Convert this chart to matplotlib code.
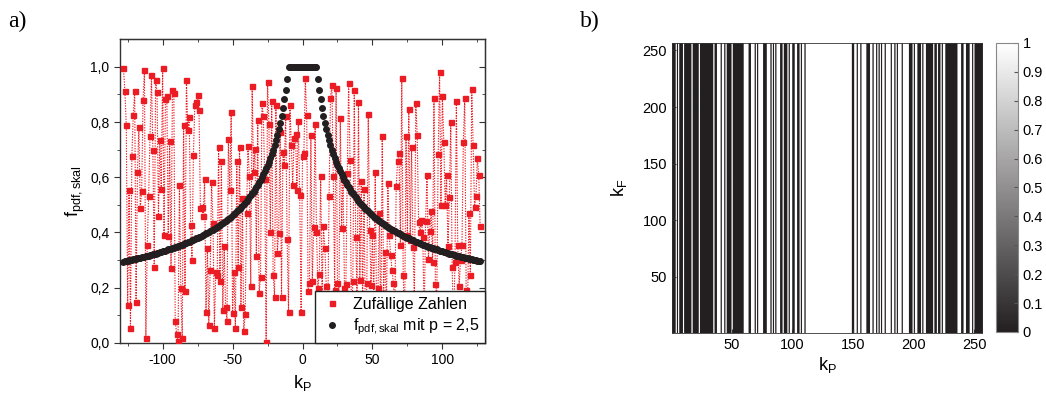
import numpy as np
import matplotlib
matplotlib.use("Agg")
import matplotlib.pyplot as plt
from matplotlib.colors import LinearSegmentedColormap

plt.rcParams['font.family'] = ['Liberation Sans', 'DejaVu Sans']
plt.rcParams['mathtext.fontset'] = 'custom'
plt.rcParams['mathtext.rm'] = 'Liberation Sans'
plt.rcParams['mathtext.it'] = 'Liberation Sans'

# k positions (left panel) and column index (right panel)
k = np.arange(-128, 128)
kP = np.arange(1, 257)

# random numbers, k = -128 ... 127
rand_a = [0.996, 0.913, 0.79, 0.135, 0.553, 0.055, 0.676, 0.825, 0.913, 0.147,
          0.62, 0.782, 0.489, 0.549, 0.88, 0.989, 0.018, 0.353, 0.533, 0.749,
          0.971, 0.698, 0.273, 0.953, 0.909, 0.458, 0.735, 0.559, 0.996, 0.389,
          0.885, 0.893, 0.387, 0.731, 0.27, 0.915, 0.905, 0.079, 0.032, 0.006,
          0.573, 0.2, 0.018, 0.79, 0.188, 0.953, 0.77, 0.818, 0.425, 0.301,
          0.68, 0.862, 0.873, 0.897, 0.844, 0.489, 0.491, 0.458, 0.595, 0.11,
          0.345, 0.064]
rand_b = [0.264, 0.582, 0.434, 0.055, 0.256, 0.244, 0.709, 0.222, 0.658, 0.119,
          0.35, 0.131, 0.079, 0.737, 0.555, 0.836, 0.107, 0.258, 0.055, 0.658,
          0.276, 0.709, 0.131, 0.525, 0.043, 0.103, 0.471, 0.713, 0.604, 0.204,
          0.93, 0.62, 0.701, 0.316, 0.807, 0.18, 0.24, 0.868, 0.822, 0.592,
          0.001, 0.945, 0.792, 0.4, 0.876, 0.246, 0.167, 0.862, 0.325, 0.398,
          0.765, 0.164, 0.692, 0.644, 0.822, 0.377, 0.113, 0.861, 0.716, 0.573,
          0.741, 0.755, 0.555, 0.804]
rand_c = [0.535, 0.11, 0.676, 0.689, 0.958, 0.824, 0.189, 0.216, 0.753, 0.222,
          0.418, 0.794, 0.401, 0.2, 0.25, 0.606, 0.18, 0.422, 0.343, 0.204,
          0.06, 0.531, 0.889, 0.933, 0.604, 0.19, 0.922, 0.218, 0.12, 0.816,
          0.416, 0.595, 0.2, 0.212, 0.616, 0.943, 0.661, 0.08, 0.222, 0.915,
          0.383, 0.17, 0.871, 0.228, 0.585, 0.14, 0.559, 0.03, 0.216, 0.828,
          0.41, 0.21, 0.392, 0.15, 0.62, 0.09, 0.2, 0.47, 0.05, 0.75,
          0.18, 0.33, 0.1, 0.58]
rand_d = [0.389, 0.319, 0.264, 0.216, 0.12, 0.567, 0.658, 0.689, 0.353, 0.961,
          0.246, 0.06, 0.749, 0.392, 0.849, 0.371, 0.709, 0.347, 0.15, 0.868,
          0.753, 0.436, 0.4, 0.444, 0.382, 0.09, 0.44, 0.607, 0.304, 0.406,
          0.476, 0.291, 0.889, 0.212, 0.17, 0.685, 0.98, 0.501, 0.895, 0.729,
          0.501, 0.607, 0.349, 0.527, 0.801, 0.274, 0.04, 0.291, 0.876, 0.353,
          0.207, 0.301, 0.353, 0.729, 0.889, 0.192, 0.13, 0.471, 0.244, 0.921,
          0.716, 0.491, 0.531, 0.671, 0.607, 0.422]
rand_vals = np.array(rand_a + rand_b + rand_c + rand_d)

# scaled pdf, indexed by |k| = 0 ... 128
f_half = [1.0] * 11 + [
    0.955, 0.916, 0.882, 0.851, 0.823, 0.798, 0.775, 0.754, 0.735, 0.717,
    0.700, 0.685, 0.670, 0.657, 0.644, 0.632, 0.621, 0.610, 0.600, 0.590,
    0.581, 0.572, 0.564, 0.556, 0.548, 0.541, 0.534, 0.527, 0.520, 0.514,
    0.508, 0.502, 0.497, 0.491, 0.486, 0.481, 0.476, 0.471, 0.466, 0.462,
    0.457, 0.453, 0.449, 0.445, 0.441, 0.437, 0.434, 0.430, 0.427, 0.423,
    0.420, 0.417, 0.413, 0.410, 0.407, 0.404, 0.401, 0.398, 0.396, 0.393,
    0.390, 0.388, 0.385, 0.383, 0.380, 0.378, 0.375, 0.373, 0.371, 0.369,
    0.366, 0.364, 0.362, 0.360, 0.358, 0.356, 0.354, 0.352, 0.350, 0.348,
    0.346, 0.345, 0.343, 0.341, 0.339, 0.338, 0.336, 0.334, 0.333, 0.331,
    0.330, 0.328, 0.326, 0.325, 0.323, 0.322, 0.321, 0.319, 0.318, 0.316,
    0.315, 0.314, 0.312, 0.311, 0.310, 0.308, 0.307, 0.306, 0.305, 0.303,
    0.302, 0.301, 0.300, 0.299, 0.297, 0.296, 0.295, 0.294]
f_pdf = np.array(f_half)[np.abs(k)]

# accepted columns (white) where the random number lies below the pdf
mask = (rand_vals < f_pdf).astype(float)
img = np.tile(mask, (256, 1))

xticks_a = [-100, -50, 0, 50, 100]
xtick_labels_a = ['-100', '-50', '0', '50', '100']
yticks_a = [0.0, 0.2, 0.4, 0.6, 0.8, 1.0]
ytick_labels_a = ['0,0', '0,2', '0,4', '0,6', '0,8', '1,0']
ticks_b = [50, 100, 150, 200, 250]
cbar_ticks = [0, 0.1, 0.2, 0.3, 0.4, 0.5, 0.6, 0.7, 0.8, 0.9, 1]
cbar_labels = ['0', '0.1', '0.2', '0.3', '0.4', '0.5', '0.6', '0.7', '0.8', '0.9', '1']

red = '#ec1c24'
dark = '#231f20'

fig = plt.figure(figsize=(10.46, 3.94), dpi=100)

# ---- panel a ----
ax = fig.add_axes([0.1147, 0.1302, 0.349, 0.770])
ax.plot(k, rand_vals, color=red, ls=(0, (1.2, 1.2)), lw=0.8, zorder=2)
ax.plot(k, rand_vals, ls='none', marker='s', ms=3.6, color=red, zorder=3,
        label='Zufällige Zahlen')
ax.plot(k, f_pdf, ls='none', marker='o', ms=4.0, color=dark, zorder=4,
        label=r'$\mathregular{f_{pdf,skal}}$ mit p = 2,5')
ax.set_xlim(-130.5, 130.5)
ax.set_ylim(0, 1.1)
ax.set_xticks(xticks_a)
ax.set_xticklabels(xtick_labels_a)
ax.set_xticks([-125, -75, -25, 25, 75, 125], minor=True)
ax.set_yticks(yticks_a)
ax.set_yticklabels(ytick_labels_a)
ax.set_yticks([0.1, 0.3, 0.5, 0.7, 0.9], minor=True)
ax.tick_params(which='both', direction='out', labelsize=10, color='#333333')
ax.tick_params(which='major', length=4)
ax.tick_params(which='minor', length=2.5)
for s in ax.spines.values():
    s.set_color('#333333')
    s.set_linewidth(1.0)
top = ax.secondary_xaxis('top')
top.set_xticks(xticks_a)
top.set_xticks([-125, -75, -25, 25, 75, 125], minor=True)
top.tick_params(which='both', direction='in', labeltop=False, color='#333333')
top.tick_params(which='major', length=4)
top.tick_params(which='minor', length=2.5)
right = ax.secondary_yaxis('right')
right.set_yticks(yticks_a)
right.set_yticks([0.1, 0.3, 0.5, 0.7, 0.9], minor=True)
right.tick_params(which='both', direction='in', labelright=False, color='#333333')
right.tick_params(which='major', length=4)
right.tick_params(which='minor', length=2.5)
ax.set_xlabel(r'$\mathregular{k_P}$', fontsize=13, labelpad=4)
ax.set_ylabel(r'$\mathregular{f_{pdf,skal}}$', fontsize=13, labelpad=2)
leg = ax.legend(loc='lower right', borderaxespad=0, fontsize=11.5, fancybox=False,
                framealpha=1, edgecolor='#222222', handletextpad=0.6,
                borderpad=0.35, labelspacing=0.3, handlelength=1.4)
leg.get_frame().set_linewidth(1.0)

fig.text(0.008, 0.945, 'a)', fontsize=17, family='Liberation Serif', va='center')
fig.text(0.554, 0.945, 'b)', fontsize=17, family='Liberation Serif', va='center')

# ---- panel b ----
cmap = LinearSegmentedColormap.from_list('grey', [dark, '#ffffff'])
ax2 = fig.add_axes([0.6424, 0.1548, 0.2964, 0.736])
im = ax2.imshow(img, cmap=cmap, vmin=0, vmax=1, aspect='auto', origin='lower',
                extent=(0.5, 256.5, 0.5, 256.5), interpolation='antialiased')
ax2.set_xticks(ticks_b)
ax2.set_yticks(ticks_b)
ax2.tick_params(direction='in', length=3, labelsize=10.5, color='#333333')
for s in ax2.spines.values():
    s.set_color('#333333')
    s.set_linewidth(0.6)
ax2.set_xlabel(r'$\mathregular{k_P}$', fontsize=13, labelpad=2)
ax2.set_ylabel(r'$\mathregular{k_F}$', fontsize=13, labelpad=10)

cax = fig.add_axes([0.9522, 0.1574, 0.021, 0.7335])
cb = fig.colorbar(im, cax=cax, ticks=cbar_ticks)
cb.set_ticklabels(cbar_labels)
cb.ax.tick_params(direction='in', length=3, labelsize=10.5, color='#555555')
cb.outline.set_edgecolor('#888888')
cb.outline.set_linewidth(0.8)

fig.savefig('out.png', dpi=100)
